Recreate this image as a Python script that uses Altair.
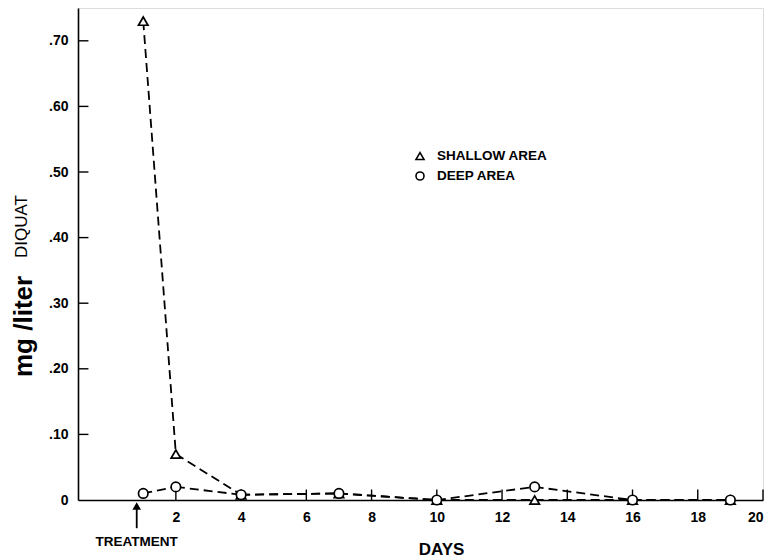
import altair as alt
import pandas as pd

# Data
days = [1, 2, 4, 7, 10, 13, 16, 19]
shallow = [0.73, 0.07, 0.008, 0.01, 0.0, 0.0, 0.0, 0.0]
deep = [0.01, 0.02, 0.008, 0.01, 0.0, 0.02, 0.0, 0.0]
series_names = ["SHALLOW AREA", "DEEP AREA"]
series_shapes = ["triangle-up", "circle"]
x_ticks = [2, 4, 6, 8, 10, 12, 14, 16, 18, 20]
y_ticks = [0.0, 0.1, 0.2, 0.3, 0.4, 0.5, 0.6, 0.7]
treatment_day = [0.8]

FONT = "Liberation Sans"
W, H = 685, 492
X_DOM = [-1, 20]
Y_DOM = [0, 0.75]

series_values = [shallow, deep]
df = pd.DataFrame(
    {"day": days * 2,
     "value": shallow + deep,
     "series": [series_names[0]] * len(days) + [series_names[1]] * len(days)}
)

# one row pair per segment, so every segment starts its dash pattern afresh
seg_rows = []
for name, vals in zip(series_names, series_values):
    for i in range(len(days) - 1):
        seg_rows.append({"day": days[i], "value": vals[i], "seg": f"{name}-{i}"})
        seg_rows.append({"day": days[i + 1], "value": vals[i + 1], "seg": f"{name}-{i}"})
seg_df = pd.DataFrame(seg_rows)

xs = alt.Scale(domain=X_DOM, nice=False, zero=False)
ys = alt.Scale(domain=Y_DOM, nice=False, zero=False)
shape_scale = alt.Scale(domain=series_names, range=series_shapes)

x_axis = alt.Axis(values=x_ticks, ticks=False, tickSize=0, grid=False, domain=True,
                  domainColor="black", domainWidth=1.6, labelFont=FONT, labelFontSize=14,
                  labelFontWeight="bold", labelColor="black", labelPadding=10,
                  title="DAYS", titleFont=FONT,
                  titleFontSize=17, titleFontWeight="bold", titleColor="black",
                  titleX=363, titleY=49, titleBaseline="middle", titleAlign="center")
y_axis = alt.Axis(values=y_ticks, ticks=False, tickSize=0, grid=False, domain=True,
                  domainColor="black", domainWidth=1.6, labelFont=FONT, labelFontSize=14,
                  labelFontWeight="bold", labelColor="black", labelPadding=10, title=None,
                  labelExpr="datum.value == 0 ? '0' : replace(format(datum.value, '.2f'), '0.', '.')")

lines = alt.Chart(seg_df).mark_line(color="black", strokeWidth=1.8,
                                    strokeDash=[9, 5]).encode(
    x=alt.X("day:Q", scale=xs, axis=x_axis),
    y=alt.Y("value:Q", scale=ys, axis=y_axis),
    detail="seg:N",
)

points = alt.Chart(df).mark_point(filled=True, fill="white", stroke="black",
                                  strokeWidth=1.7, size=90, opacity=1).encode(
    x=alt.X("day:Q", scale=xs),
    y=alt.Y("value:Q", scale=ys),
    shape=alt.Shape("series:N", scale=shape_scale, legend=None),
)

# Hand-built legend (keyed by the series names)
leg_df = pd.DataFrame({"series": series_names, "row": [0, 1]})
leg_y = alt.Scale(domain=[0, 1], range=[148, 168])
leg_pts = alt.Chart(leg_df).mark_point(filled=True, fill="white", stroke="black",
                                       strokeWidth=1.6, size=64, opacity=1).encode(
    x=alt.value(342),
    y=alt.Y("row:Q", scale=leg_y, axis=None),
    shape=alt.Shape("series:N", scale=shape_scale, legend=None),
)
leg_txt = alt.Chart(leg_df).mark_text(font=FONT, fontSize=13.5, fontWeight="bold",
                                      color="black", align="left",
                                      baseline="middle").encode(
    x=alt.value(359),
    y=alt.Y("row:Q", scale=leg_y, axis=None),
    text="series:N",
)
legend = alt.layer(leg_pts, leg_txt).resolve_scale(y="independent")

xtick_df = pd.DataFrame({"t": x_ticks})
xticks = alt.Chart(xtick_df).mark_rule(color="black", strokeWidth=1.4).encode(
    x=alt.X("t:Q", scale=xs),
    y=alt.datum(0, scale=ys),
    y2=alt.datum(0.016),
)

ytick_df = pd.DataFrame({"t": y_ticks[1:]})
yticks = alt.Chart(ytick_df).mark_rule(color="black", strokeWidth=1.4).encode(
    y=alt.Y("t:Q", scale=ys),
    x=alt.datum(-1, scale=xs),
    x2=alt.datum(-0.68),
)

tr_df = pd.DataFrame({"d": treatment_day})
arrow_line = alt.Chart(tr_df).mark_rule(color="black", strokeWidth=1.8).encode(
    x=alt.X("d:Q", scale=xs),
    y=alt.datum(-0.012, scale=ys),
    y2=alt.datum(-0.043),
)
arrow_head = alt.Chart(tr_df).mark_point(shape="triangle-up", filled=True, color="black",
                                         size=75, opacity=1).encode(
    x=alt.X("d:Q", scale=xs),
    y=alt.datum(-0.009, scale=ys),
)
arrow_text = alt.Chart(tr_df).mark_text(text="TREATMENT", font=FONT, fontSize=13.5,
                                        fontWeight="bold", color="black",
                                        baseline="middle", align="center").encode(
    x=alt.X("d:Q", scale=xs),
    y=alt.datum(-0.064, scale=ys),
)

title_main = alt.Chart(tr_df).mark_text(text="mg /liter", font=FONT, fontSize=26,
                                        fontWeight="bold", color="black", angle=270,
                                        align="left", baseline="alphabetic").encode(
    x=alt.value(-46), y=alt.value(369),
)
title_sub = alt.Chart(tr_df).mark_text(text="DIQUAT", font=FONT, fontSize=17,
                                       color="black", angle=270, align="left",
                                       baseline="alphabetic").encode(
    x=alt.value(-51), y=alt.value(250),
)

main = alt.layer(lines, xticks, yticks, points, arrow_line, arrow_head, arrow_text,
                 title_main, title_sub)

chart = alt.layer(main, legend).resolve_scale(y="independent").properties(
    width=W, height=H,
    autosize=alt.AutoSizeParams(type="none"),
    padding={"left": 70, "top": 0, "right": 3, "bottom": 58},
).configure_view(stroke=None).configure(background="white")

chart.save("out.html", embed_options={"renderer": "svg", "actions": False})
